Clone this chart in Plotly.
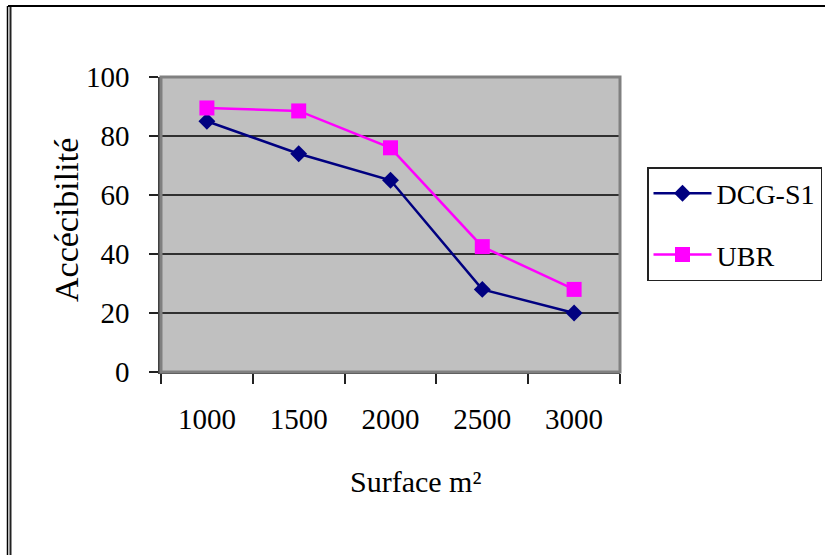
import plotly.graph_objects as go

categories = ["1000", "1500", "2000", "2500", "3000"]
dcg_s1 = [85, 74, 65, 28, 20]
ubr = [89.5, 88.5, 76, 42.5, 28]
y_ticks = [0, 20, 40, 60, 80, 100]

W, H = 825, 555
L, R, T, B = 161, 620, 77, 372  # plot area in px


def px_x(x):
    return (x - L) / (R - L)


def px_y(y):
    return (B - y) / (B - T)


FONT = "Liberation Serif, Times New Roman, serif"

fig = go.Figure()
fig.add_trace(go.Scatter(
    x=categories, y=dcg_s1, name="DCG-S1", mode="lines+markers",
    line=dict(color="#000080", width=2.5),
    marker=dict(symbol="diamond", size=13, color="#000080"),
    legendgroup="a",
))
fig.add_trace(go.Scatter(
    x=categories, y=ubr, name="UBR", mode="lines+markers",
    line=dict(color="#FF00FF", width=2.5),
    marker=dict(symbol="square", size=15, color="#FF00FF"),
    legendgroup="b",
))

shapes = [
    # plot area border (gray)
    dict(type="rect", xref="paper", yref="paper", x0=0, x1=1, y0=0, y1=1,
         line=dict(color="#808080", width=3), layer="above"),
    # outer frame: top line
    dict(type="line", xref="paper", yref="paper", x0=px_x(8), x1=px_x(830),
         y0=px_y(6), y1=px_y(6), line=dict(color="black", width=2)),
    # outer frame: left double line
    dict(type="line", xref="paper", yref="paper", x0=px_x(7.5), x1=px_x(7.5),
         y0=px_y(6), y1=px_y(570), line=dict(color="black", width=1.5)),
    dict(type="line", xref="paper", yref="paper", x0=px_x(10.5), x1=px_x(10.5),
         y0=px_y(7), y1=px_y(570), line=dict(color="#222222", width=2)),
]

annotations = [
    dict(text="Accécibilité", xref="paper", yref="paper", x=px_x(66), y=px_y(220),
         textangle=-90, showarrow=False, font=dict(family=FONT, size=34, color="black"),
         xanchor="center", yanchor="middle"),
    dict(text="Surface m²", xref="paper", yref="paper", x=px_x(415), y=px_y(481),
         showarrow=False, font=dict(family=FONT, size=30, color="black"),
         xanchor="center", yanchor="middle"),
]

fig.update_layout(
    width=W, height=H,
    margin=dict(l=L, r=W - R, t=T, b=H - B, pad=0, autoexpand=False),
    paper_bgcolor="white",
    plot_bgcolor="#C0C0C0",
    font=dict(family=FONT, size=28, color="black"),
    showlegend=True,
    legend=dict(
        x=px_x(647), y=px_y(167), xanchor="left", yanchor="top",
        bordercolor="#222222", borderwidth=1.5, bgcolor="white",
        font=dict(family=FONT, size=28, color="black"),
        traceorder="grouped", tracegroupgap=22,
        itemwidth=58,
    ),
    xaxis=dict(
        type="category", range=[-0.5, 4.5],
        showgrid=False, zeroline=False,
        showline=True, linecolor="#404040", linewidth=2,
        ticks="outside", ticklen=10, tickwidth=1.5, tickcolor="#222222",
        tickson="boundaries", ticklabelstandoff=20,
        tickfont=dict(family=FONT, size=29, color="black"),
    ),
    yaxis=dict(
        range=[0, 100], tickvals=y_ticks,
        showgrid=True, gridcolor="#303030", gridwidth=2,
        zeroline=False,
        showline=True, linecolor="#404040", linewidth=2.5,
        ticks="outside", ticklen=9, tickwidth=1.5, tickcolor="#222222",
        ticklabelstandoff=14,
        tickfont=dict(family=FONT, size=29, color="black"),
    ),
    shapes=shapes,
    annotations=annotations,
)

fig.write_html("out.html")
